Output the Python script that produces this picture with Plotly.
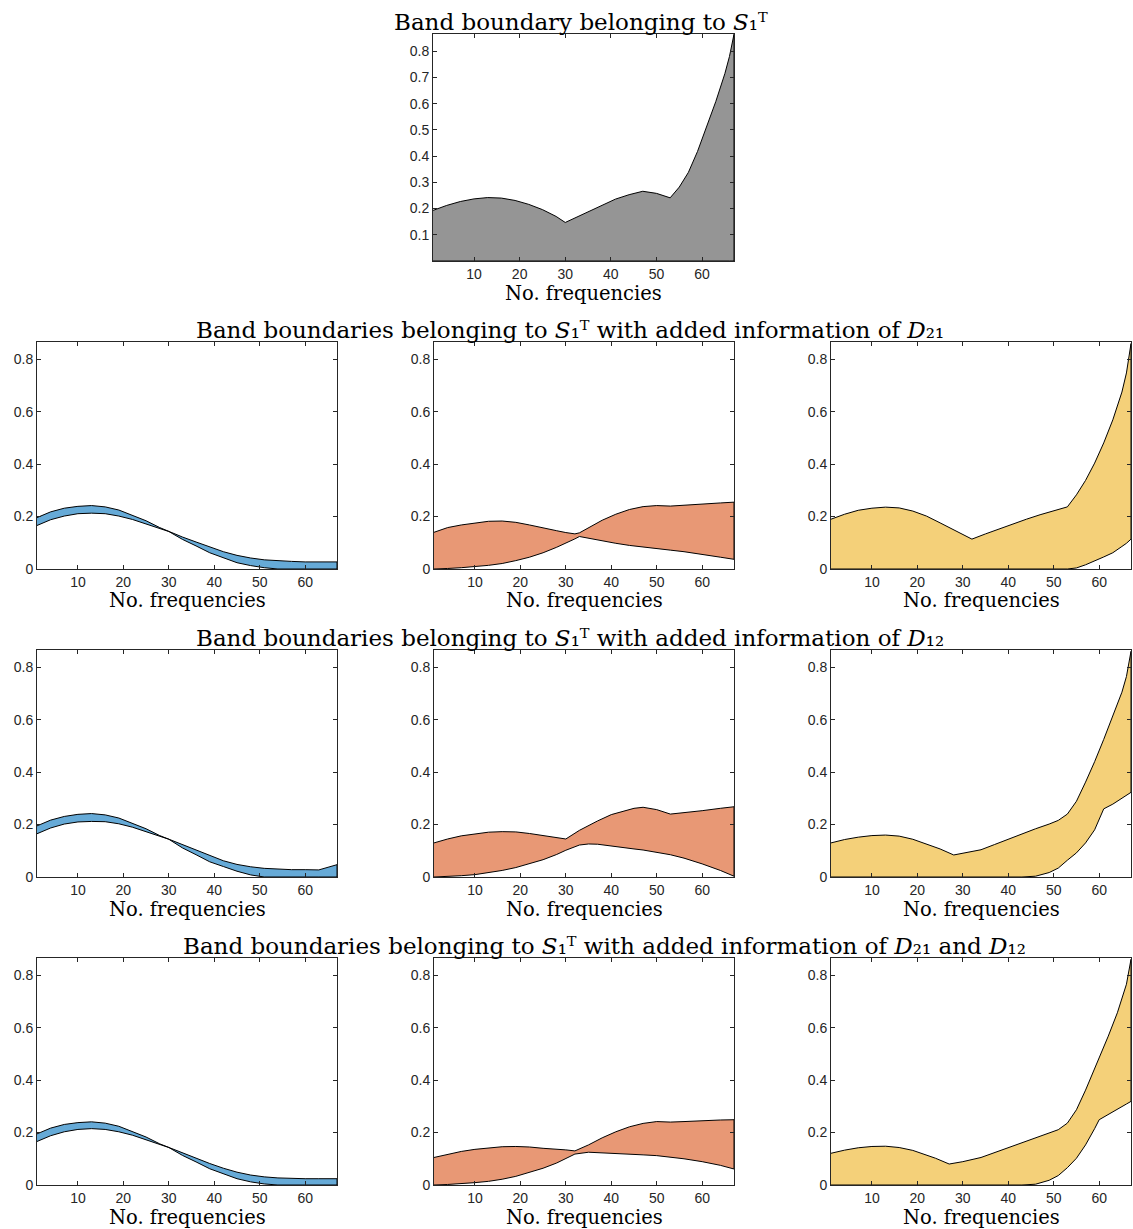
import plotly.graph_objects as go

# ---------------- data ----------------
# Top panel: band boundary belonging to S1^T
freq_top = [1, 4, 7, 10, 13, 16, 19, 22, 25, 28, 30, 32, 35, 38, 41, 44, 47, 50, 53, 55, 57, 59, 61, 63, 65, 66, 67]
upper_top = [0.193, 0.212, 0.227, 0.237, 0.242, 0.240, 0.231, 0.216, 0.196, 0.170, 0.147, 0.163, 0.189, 0.214,
             0.236, 0.253, 0.266, 0.258, 0.241, 0.282, 0.338, 0.418, 0.513, 0.608, 0.715, 0.780, 0.865]
lower_top = [0.0] * 27

# Row "D21"
freq_d21_a = [1, 4, 7, 10, 13, 16, 19, 22, 25, 28, 30, 33, 36, 39, 42, 45, 48, 51, 54, 57, 60, 63, 67]
upper_d21_a = [0.196, 0.218, 0.232, 0.239, 0.242, 0.237, 0.225, 0.206, 0.184, 0.158, 0.143, 0.122, 0.103, 0.083,
               0.066, 0.052, 0.042, 0.035, 0.031, 0.029, 0.027, 0.027, 0.027]
lower_d21_a = [0.166, 0.188, 0.202, 0.211, 0.213, 0.211, 0.202, 0.189, 0.171, 0.154, 0.143, 0.113, 0.088, 0.062,
               0.042, 0.024, 0.013, 0.005, 0.0, 0.0, 0.0, 0.0, 0.0]

freq_d21_b = [1, 4, 7, 10, 13, 16, 19, 22, 25, 28, 30, 32, 33, 35, 38, 41, 44, 47, 50, 53, 56, 60, 64, 67]
upper_d21_b = [0.140, 0.158, 0.168, 0.176, 0.182, 0.183, 0.178, 0.168, 0.156, 0.146, 0.139, 0.134, 0.138, 0.158,
               0.186, 0.209, 0.227, 0.238, 0.242, 0.240, 0.244, 0.249, 0.252, 0.255]
lower_d21_b = [0.0, 0.002, 0.005, 0.009, 0.014, 0.021, 0.032, 0.045, 0.062, 0.083, 0.098, 0.115, 0.124, 0.119,
               0.108, 0.098, 0.090, 0.083, 0.078, 0.072, 0.066, 0.056, 0.045, 0.037]

freq_d21_c = [1, 4, 7, 10, 13, 16, 19, 22, 25, 28, 30, 32, 35, 38, 41, 44, 47, 50, 53, 55, 57, 59, 61, 63, 65, 66, 67]
upper_d21_c = [0.190, 0.209, 0.224, 0.232, 0.236, 0.233, 0.221, 0.202, 0.176, 0.150, 0.131, 0.114, 0.134, 0.153,
               0.171, 0.190, 0.207, 0.222, 0.237, 0.283, 0.338, 0.404, 0.481, 0.569, 0.675, 0.748, 0.860]
lower_d21_c = [0.0, 0.0, 0.0, 0.0, 0.0, 0.0, 0.0, 0.0, 0.0, 0.0, 0.0, 0.0, 0.0, 0.0,
               0.0, 0.0, 0.0, 0.0, 0.0, 0.004, 0.016, 0.030, 0.046, 0.062, 0.086, 0.098, 0.114]

# Row "D12"
freq_d12_a = [1, 4, 7, 10, 13, 16, 19, 22, 25, 28, 30, 33, 36, 39, 42, 45, 48, 51, 54, 57, 60, 63, 67]
upper_d12_a = [0.195, 0.217, 0.231, 0.239, 0.242, 0.237, 0.225, 0.206, 0.184, 0.158, 0.144, 0.122, 0.101, 0.080,
               0.062, 0.048, 0.039, 0.033, 0.030, 0.028, 0.028, 0.027, 0.047]
lower_d12_a = [0.165, 0.187, 0.202, 0.210, 0.212, 0.211, 0.203, 0.190, 0.172, 0.155, 0.144, 0.111, 0.085, 0.058,
               0.040, 0.022, 0.008, 0.0, 0.0, 0.0, 0.0, 0.0, 0.0]

freq_d12_b = [1, 4, 7, 10, 13, 16, 19, 22, 25, 28, 30, 33, 35, 37, 40, 43, 45, 47, 50, 53, 56, 60, 64, 67]
upper_d12_b = [0.130, 0.145, 0.157, 0.165, 0.171, 0.173, 0.172, 0.166, 0.158, 0.151, 0.145, 0.178, 0.197, 0.214,
               0.238, 0.254, 0.262, 0.266, 0.257, 0.240, 0.245, 0.253, 0.262, 0.268]
lower_d12_b = [0.0, 0.002, 0.005, 0.009, 0.016, 0.025, 0.036, 0.050, 0.066, 0.086, 0.102, 0.122, 0.126, 0.125,
               0.117, 0.111, 0.107, 0.103, 0.095, 0.085, 0.072, 0.050, 0.025, 0.003]

freq_d12_c = [1, 4, 7, 10, 13, 16, 19, 22, 25, 28, 31, 34, 37, 40, 43, 46, 49, 51, 53, 55, 57, 59, 61, 63, 65, 66, 67]
upper_d12_c = [0.130, 0.143, 0.152, 0.158, 0.160, 0.156, 0.144, 0.126, 0.107, 0.084, 0.093, 0.104, 0.124, 0.145,
               0.164, 0.184, 0.202, 0.216, 0.240, 0.289, 0.362, 0.440, 0.525, 0.613, 0.705, 0.765, 0.861]
lower_d12_c = [0.0, 0.0, 0.0, 0.0, 0.0, 0.0, 0.0, 0.0, 0.0, 0.0, 0.0, 0.0, 0.0, 0.0,
               0.0, 0.003, 0.017, 0.034, 0.064, 0.092, 0.130, 0.180, 0.260, 0.278, 0.300, 0.311, 0.323]

# Row "D21 and D12"
freq_both_a = [1, 4, 7, 10, 13, 16, 19, 22, 25, 28, 30, 33, 36, 39, 42, 45, 48, 51, 54, 57, 60, 63, 67]
upper_both_a = [0.195, 0.217, 0.231, 0.238, 0.241, 0.236, 0.224, 0.205, 0.183, 0.157, 0.143, 0.122, 0.102, 0.082,
                0.064, 0.049, 0.038, 0.031, 0.027, 0.025, 0.024, 0.024, 0.024]
lower_both_a = [0.166, 0.188, 0.203, 0.212, 0.215, 0.212, 0.203, 0.190, 0.172, 0.155, 0.143, 0.113, 0.088, 0.062,
                0.042, 0.024, 0.012, 0.004, 0.0, 0.0, 0.0, 0.0, 0.0]

freq_both_b = [1, 4, 7, 10, 13, 16, 19, 22, 25, 28, 30, 32, 35, 38, 41, 44, 47, 50, 53, 56, 60, 64, 67]
upper_both_b = [0.105, 0.117, 0.128, 0.136, 0.142, 0.146, 0.147, 0.145, 0.140, 0.137, 0.134, 0.130, 0.153, 0.180,
                0.203, 0.222, 0.235, 0.242, 0.240, 0.242, 0.246, 0.248, 0.249]
lower_both_b = [0.0, 0.002, 0.005, 0.009, 0.014, 0.022, 0.033, 0.047, 0.064, 0.084, 0.102, 0.118, 0.125, 0.123,
                0.120, 0.118, 0.115, 0.112, 0.107, 0.100, 0.089, 0.075, 0.061]

freq_both_c = [1, 4, 7, 10, 13, 16, 19, 22, 24, 27, 30, 34, 37, 40, 43, 46, 49, 51, 53, 55, 57, 59, 60, 62, 64, 66, 67]
upper_both_c = [0.121, 0.133, 0.142, 0.147, 0.148, 0.143, 0.132, 0.115, 0.102, 0.080, 0.089, 0.105, 0.124, 0.143,
                0.162, 0.181, 0.198, 0.211, 0.236, 0.287, 0.362, 0.443, 0.485, 0.568, 0.657, 0.766, 0.861]
lower_both_c = [0.0, 0.0, 0.0, 0.0, 0.0, 0.0, 0.0, 0.0, 0.0, 0.0, 0.0, 0.0, 0.0, 0.0,
                0.0, 0.003, 0.018, 0.036, 0.066, 0.102, 0.153, 0.215, 0.249, 0.268, 0.288, 0.309, 0.319]

x_ticks = [10, 20, 30, 40, 50, 60]
y_ticks_top = [0.1, 0.2, 0.3, 0.4, 0.5, 0.6, 0.7, 0.8]
y_ticks_rows = [0, 0.2, 0.4, 0.6, 0.8]
y_ticktext_rows = ["0", "0.2", "0.4", "0.6", "0.8"]

S1T = "<i>S</i>\u2081\u1d40"
D21 = "<i>D</i>\u2082\u2081"
D12 = "<i>D</i>\u2081\u2082"
title_top = f"Band boundary belonging to {S1T}"
title_d21 = f"Band boundaries belonging to {S1T} with added information of {D21}"
title_d12 = f"Band boundaries belonging to {S1T} with added information of {D12}"
title_both = f"Band boundaries belonging to {S1T} with added information of {D21} and {D12}"
x_label = "No. frequencies"

GRAY = "#959595"
BLUE = "#66AAD7"
ORANGE = "#E89875"
YELLOW = "#F4D079"

# ---------------- layout ----------------
W, H = 1133, 1229
SERIF = "DejaVu Serif, Liberation Serif, serif"
SANS = "Liberation Sans, Arial, Helvetica, sans-serif"
AX = "#262626"

col_px = [(37, 337), (434, 734), (831, 1131)]
top_px = (433, 734)
row_px = [(34, 261), (342, 569), (650, 877), (958, 1185)]


def xdom(l, r):
    return [l / W, r / W]


def ydom(t, b):
    return [1 - b / H, 1 - t / H]


panels = [
    (freq_top, upper_top, lower_top, GRAY, top_px, row_px[0], "top"),
    (freq_d21_a, upper_d21_a, lower_d21_a, BLUE, col_px[0], row_px[1], "row"),
    (freq_d21_b, upper_d21_b, lower_d21_b, ORANGE, col_px[1], row_px[1], "row"),
    (freq_d21_c, upper_d21_c, lower_d21_c, YELLOW, col_px[2], row_px[1], "row"),
    (freq_d12_a, upper_d12_a, lower_d12_a, BLUE, col_px[0], row_px[2], "row"),
    (freq_d12_b, upper_d12_b, lower_d12_b, ORANGE, col_px[1], row_px[2], "row"),
    (freq_d12_c, upper_d12_c, lower_d12_c, YELLOW, col_px[2], row_px[2], "row"),
    (freq_both_a, upper_both_a, lower_both_a, BLUE, col_px[0], row_px[3], "row"),
    (freq_both_b, upper_both_b, lower_both_b, ORANGE, col_px[1], row_px[3], "row"),
    (freq_both_c, upper_both_c, lower_both_c, YELLOW, col_px[2], row_px[3], "row"),
]

fig = go.Figure()
layout = dict(
    template="none",
    width=W, height=H, autosize=False,
    margin=dict(l=0, r=0, t=0, b=0, pad=0),
    paper_bgcolor="white", plot_bgcolor="white",
    showlegend=False,
    font=dict(family=SANS, size=14, color=AX),
)
annotations = []

for i, (fx, up, lo, col, xp, yp, kind) in enumerate(panels):
    n = i + 1
    xa = "x" if n == 1 else f"x{n}"
    ya = "y" if n == 1 else f"y{n}"
    fig.add_trace(go.Scatter(
        x=list(fx) + list(fx)[::-1],
        y=list(up) + list(lo)[::-1],
        fill="toself", fillcolor=col, mode="lines",
        line=dict(color="black", width=1),
        xaxis=xa, yaxis=ya, hoverinfo="skip",
    ))
    axcommon = dict(showline=True, linecolor=AX, linewidth=1, mirror="ticks",
                    ticks="inside", ticklen=4, tickcolor=AX, tickwidth=1,
                    showgrid=False, zeroline=False, fixedrange=True,
                    automargin=False,
                    tickfont=dict(family=SANS, size=14, color=AX))
    layout["xaxis" if n == 1 else f"xaxis{n}"] = dict(
        domain=xdom(*xp), range=[1, 67], anchor=ya,
        tickvals=x_ticks, **axcommon)
    if kind == "top":
        yt = dict(tickvals=y_ticks_top)
    else:
        yt = dict(tickvals=y_ticks_rows, ticktext=y_ticktext_rows)
    layout["yaxis" if n == 1 else f"yaxis{n}"] = dict(
        domain=ydom(*yp), range=[0, 0.866], anchor=xa, **yt, **axcommon)
    # x-axis label
    annotations.append(dict(
        text=x_label, xref="paper", yref="paper",
        x=(xp[0] + xp[1]) / 2 / W, y=1 - (yp[1] + 32) / H,
        xanchor="center", yanchor="middle", showarrow=False,
        font=dict(family=SERIF, size=19.5, color="black")))

titles = [
    (title_top, 581, 22),
    (title_d21, 570, 330),
    (title_d12, 570, 638),
    (title_both, 604, 946),
]
for txt, cx, cy in titles:
    annotations.append(dict(
        text=txt, xref="paper", yref="paper",
        x=cx / W, y=1 - cy / H, xanchor="center", yanchor="middle",
        showarrow=False, font=dict(family=SERIF, size=23, color="black")))

layout["annotations"] = annotations
fig.update_layout(**layout)
fig.write_html("out.html", config={"displayModeBar": False},
               post_script="document.body.style.margin='0';")
